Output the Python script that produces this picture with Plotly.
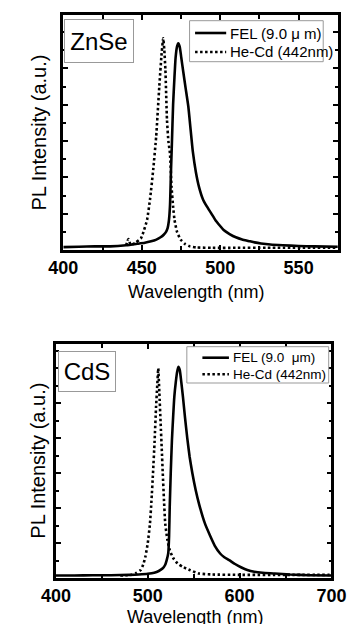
import plotly.graph_objects as go

# ---------------- data ----------------
# ZnSe panel
znse_fel_wl = [400, 410, 420, 430, 440, 447, 452, 456, 459, 462, 464, 465.5, 466.5, 467.3, 468, 468.6,
               469.2, 470, 470.8, 471.6, 472.5, 473.3, 474.2, 475.2, 476.5, 478, 479.7, 481.2, 482.6,
               484.5, 486.5, 489, 491.5, 494.3, 497, 500, 502.2, 506, 510, 514, 518, 522, 526, 532,
               540, 550, 560, 575]
znse_fel_int = [0.08, 0.09, 0.1, 0.1, 0.13, 0.17, 0.2, 0.24, 0.28, 0.35, 0.42, 0.5, 0.6, 0.8, 1.2, 2.1,
                2.9, 4.0, 4.7, 5.3, 5.6, 5.69, 5.6, 5.3, 4.9, 4.45, 3.95, 3.3, 2.7,
                2.15, 1.74, 1.4, 1.2, 1.01, 0.82, 0.66, 0.55, 0.44, 0.35, 0.29, 0.25, 0.21, 0.18, 0.15,
                0.13, 0.11, 0.1, 0.09]
znse_hecd_wl = [440, 441.5, 443, 446, 449.5, 451.5, 453.4, 455.3, 457.3, 459.2, 461.2, 462.7, 463.7,
                464.4, 465.1, 466.1, 467, 468, 469, 470, 470.9, 472.5, 474.9, 477.5, 480.7, 485, 495,
                510, 530, 575]
znse_hecd_int = [0.12, 0.3, 0.14, 0.2, 0.32, 0.55, 0.83, 1.4, 2.2, 3.12, 4.5, 5.42, 5.83,
                 5.5, 4.96, 3.58, 3.0, 2.66, 1.74, 1.2, 0.83, 0.5, 0.28, 0.17, 0.1, 0.07, 0.06,
                 0.06, 0.06, 0.06]

# CdS panel
cds_fel_wl = [400, 420, 440, 460, 480, 490, 500, 507, 512, 516, 519, 520.6, 522.3, 523.2, 523.9, 525,
              526.3, 527.6, 528.9, 530.5, 532, 533.3, 534.8, 536.5, 538.3, 540.5, 543, 545.6, 548.5,
              552.2, 556, 562.2, 568, 573, 578.8, 583, 588.7, 595, 602, 608.4, 616, 625, 638.3, 655,
              675, 700]
cds_fel_int = [0.07, 0.07, 0.08, 0.08, 0.09, 0.1, 0.12, 0.15, 0.2, 0.27, 0.38, 0.51, 0.71, 1.2, 2.04, 3.0,
               3.94, 4.6, 5.18, 5.6, 5.9, 6.04, 5.95, 5.6, 5.18, 4.6, 4.0, 3.46, 3.0,
               2.51, 2.1, 1.56, 1.2, 0.92, 0.70, 0.6, 0.51, 0.4, 0.3, 0.23, 0.18, 0.15, 0.13, 0.1,
               0.08, 0.07]
cds_hecd_wl = [470, 478, 482.5, 487, 492.4, 495, 497.4, 500, 502.4, 504, 505.7, 507.4, 509, 510.3, 511.4,
               512.6, 514, 515.2, 516.3, 517.6, 519, 521.3, 523.9, 527.5, 532.3, 538, 545.6, 555.5,
               570, 600, 650, 698]
cds_hecd_int = [0.07, 0.08, 0.09, 0.14, 0.23, 0.38, 0.61, 1.0, 1.56, 2.2, 3.0, 3.9, 4.89, 5.5, 5.99,
                5.3, 4.42, 3.7, 3.0, 2.25, 1.56, 1.1, 0.8, 0.58, 0.42, 0.32, 0.23, 0.13,
                0.1, 0.09, 0.09, 0.09]

x_ticks_top = [400, 450, 500, 550]
x_ticks_bottom = [400, 500, 600, 700]
labels = ["ZnSe", "CdS"]
legend_top = ["FEL (9.0 \u03bc m)", "He-Cd (442nm)"]
legend_bottom = ["FEL (9.0\u00a0 \u03bcm)", "He-Cd (442nm)"]
x_title = "Wavelength (nm)"
y_title = "PL Intensity (a.u.)"

# ---------------- figure ----------------
# the page body has an 8px default margin: the figure is made 8px smaller
OFF = 8
W, H = 362 - OFF, 624 - OFF
FONT = "Arial, Liberation Sans, sans-serif"


def px_x(p):
    return (p - OFF) / W


def px_y(p):
    return 1 - (p - OFF) / H


fig = go.Figure()
solid = dict(color="black", width=2.6)
DOT = "2.5px,2.5px"
dotted = dict(color="black", width=2.6, dash=DOT)

fig.add_trace(go.Scatter(x=znse_fel_wl, y=znse_fel_int, mode="lines",
                         line=dict(**solid, shape="spline", smoothing=0.5),
                         name=legend_top[0], xaxis="x", yaxis="y", showlegend=False))
fig.add_trace(go.Scatter(x=znse_hecd_wl, y=znse_hecd_int, mode="lines",
                         line=dict(**dotted, shape="spline", smoothing=0.5),
                         name=legend_top[1], xaxis="x", yaxis="y", showlegend=False))
fig.add_trace(go.Scatter(x=cds_fel_wl, y=cds_fel_int, mode="lines",
                         line=dict(**solid, shape="spline", smoothing=0.5),
                         name=legend_bottom[0], xaxis="x2", yaxis="y2", showlegend=False))
fig.add_trace(go.Scatter(x=cds_hecd_wl, y=cds_hecd_int, mode="lines",
                         line=dict(**dotted, shape="spline", smoothing=0.5),
                         name=legend_bottom[1], xaxis="x2", yaxis="y2", showlegend=False))

xcommon = dict(showline=True, linecolor="black", linewidth=2.6, mirror="ticks", ticks="inside",
               tickcolor="black", tickwidth=2, ticklen=5, showgrid=False, zeroline=False,
               tickfont=dict(family=FONT, size=18, color="black", weight="bold"),
               ticklabelstandoff=0)
ycommon = dict(showline=True, linecolor="black", linewidth=2.6, mirror="ticks", ticks="inside",
               tickcolor="black", tickwidth=2, ticklen=5, showgrid=False, zeroline=False,
               showticklabels=False, tick0=0, dtick=1,
               minor=dict(ticks="inside", ticklen=3, tickwidth=1.5, tickcolor="black", dtick=0.5, showgrid=False))

fig.update_layout(
    width=W, height=H, margin=dict(l=0, r=0, t=0, b=0, pad=0),
    paper_bgcolor="white", plot_bgcolor="white", showlegend=False,
    xaxis=dict(**xcommon, domain=[px_x(52), px_x(352)], range=[400, 575], anchor="y",
               tickvals=x_ticks_top,
               minor=dict(ticks="inside", ticklen=4, tickwidth=1.5, tickcolor="black", dtick=25, tick0=400, showgrid=False)),
    yaxis=dict(**ycommon, domain=[px_y(250), px_y(15)], range=[0, 6.47], anchor="x"),
    xaxis2=dict(**xcommon, domain=[px_x(44), px_x(345)], range=[400, 700], anchor="y2",
                tickvals=x_ticks_bottom,
                minor=dict(ticks="inside", ticklen=4, tickwidth=1.5, tickcolor="black", dtick=50, tick0=400, showgrid=False)),
    yaxis2=dict(**ycommon, domain=[px_y(578), px_y(344)], range=[0, 6.69], anchor="x2"),
)

annots = []
shapes = []
# sample labels
annots.append(dict(text=labels[0], x=px_x(91.3), y=px_y(41.3), xref="paper", yref="paper",
                   xanchor="center", yanchor="middle", showarrow=False, width=64, height=38,
                   bordercolor="#999999", borderwidth=1, borderpad=2, bgcolor="white",
                   font=dict(family=FONT, size=24, color="black")))
annots.append(dict(text=labels[1], x=px_x(77.5), y=px_y(371.2), xref="paper", yref="paper",
                   xanchor="center", yanchor="middle", showarrow=False, width=52, height=35,
                   bordercolor="#999999", borderwidth=1, borderpad=2, bgcolor="white",
                   font=dict(family=FONT, size=24, color="black")))

# legends (box, line samples, texts)
legend_specs = [
    # box x0, x1, y0, y1, sample x0, x1, text x, row ys, font size, texts
    (190, 336, 20.7, 61.7, 196, 230, 232, (33, 52), 15, legend_top),
    (187, 342, 346.7, 383, 204, 233, 235, (357.7, 374.3), 13.5, legend_bottom),
]
for bx0, bx1, by0, by1, sx0, sx1, tx, rows, fsz, texts in legend_specs:
    shapes.append(dict(type="rect", xref="paper", yref="paper", x0=px_x(bx0), x1=px_x(bx1),
                       y0=px_y(by1), y1=px_y(by0), line=dict(color="#999999", width=1),
                       fillcolor="white", layer="above"))
    for ry, txt, ln in zip(rows, texts, [solid, dotted]):
        shapes.append(dict(type="line", xref="paper", yref="paper", x0=px_x(sx0), x1=px_x(sx1),
                           y0=px_y(ry), y1=px_y(ry), line=ln, layer="above"))
        annots.append(dict(text=txt, x=px_x(tx), y=px_y(ry), xref="paper", yref="paper",
                           xanchor="left", yanchor="middle", showarrow=False,
                           font=dict(family=FONT, size=fsz, color="black")))

# axis titles
for cx, cy in [(197, 292), (196, 617)]:
    annots.append(dict(text=x_title, x=px_x(cx), y=px_y(cy), xref="paper", yref="paper",
                       xanchor="center", yanchor="middle", showarrow=False,
                       font=dict(family=FONT, size=18, color="black")))
for cx, cy in [(25, 133), (24, 461)]:
    annots.append(dict(text=y_title, x=px_x(cx), y=px_y(cy), xref="paper", yref="paper",
                       xanchor="center", yanchor="middle", showarrow=False, textangle=-90,
                       font=dict(family=FONT, size=20, color="black")))
fig.update_layout(annotations=annots, shapes=shapes)

fig.write_html("out.html")
